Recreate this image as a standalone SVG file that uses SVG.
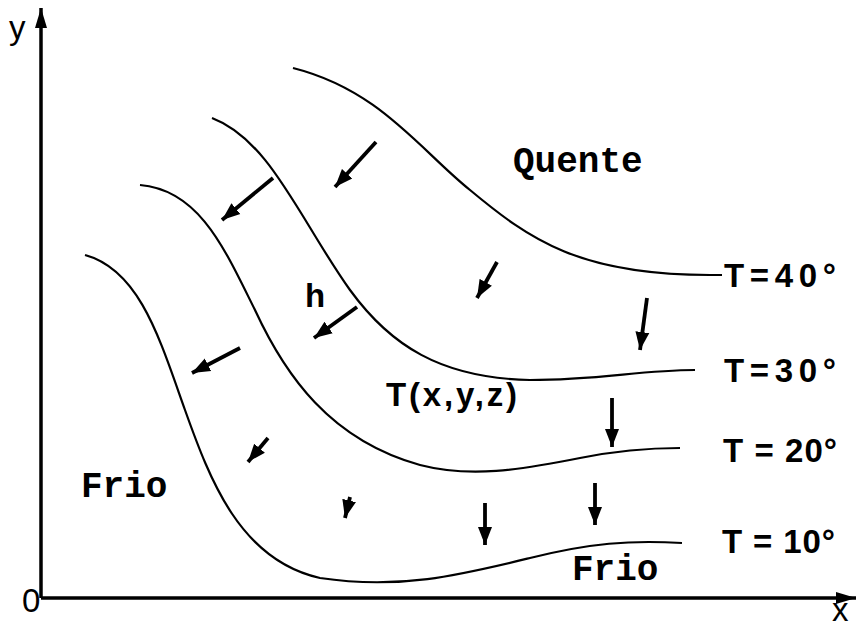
<svg xmlns="http://www.w3.org/2000/svg" width="860" height="628" viewBox="0 0 860 628">
<style>
.curve{fill:none;stroke:#000;stroke-width:2.2}
.axis{fill:none;stroke:#000;stroke-width:3.5}
.arr{fill:none;stroke:#000;stroke-width:3.8;marker-end:url(#ah)}
.mono{font-family:"Liberation Mono",monospace;font-weight:bold;font-size:36px;fill:#000}
.sans{font-family:"Liberation Sans",Arial,sans-serif;font-size:33px;fill:#000}
.lab{font-family:"Liberation Sans",Arial,sans-serif;font-size:33px;font-weight:bold;fill:#000}
</style>
<defs>
<marker id="ah" markerUnits="userSpaceOnUse" markerWidth="20" markerHeight="16" refX="18" refY="8" orient="auto">
<path d="M0,1 L18,8 L0,15 Z" fill="#000"/>
</marker>
<marker id="axh" markerUnits="userSpaceOnUse" markerWidth="22" markerHeight="16" refX="20" refY="8" orient="auto">
<path d="M0,2 L20,8 L0,14 Z" fill="#000"/>
</marker>
</defs>
<g id="axes">
<line class="axis" x1="41" y1="598" x2="41" y2="8" marker-end="url(#axh)"/>
<line class="axis" x1="41" y1="598" x2="856" y2="598" marker-end="url(#axh)"/>
<text class="sans" x="9" y="39" font-size="28">y</text>
<text class="sans" x="22" y="612" font-size="28">0</text>
<text class="sans" x="832" y="621" font-size="26">x</text>
</g>
<g id="isotherms">
<g id="t40"><path class="curve" d="M293,68 C380,90 420,150 470,190 C530,240 580,275 710,275 L722,275"/><text class="lab" x="724" y="287" textLength="112">T=40°</text></g>
<g id="t30"><path class="curve" d="M212,118 C270,140 300,220 350,290 C390,345 440,378 530,380 C600,380 640,370 695,370"/><text class="lab" x="724" y="382" textLength="112">T=30°</text></g>
<g id="t20"><path class="curve" d="M140,185 C200,190 225,250 255,310 C285,375 330,440 420,465 C470,478 520,470 580,458 C620,450 650,448 680,448"/><text class="lab" x="723" y="462" textLength="114">T = 20°</text></g>
<g id="t10"><path class="curve" d="M85,255 C140,270 160,340 185,410 C210,480 240,560 320,578 C400,590 460,575 530,558 C590,543 630,540 682,543"/><text class="lab" x="722" y="553" textLength="113">T = 10°</text></g>
</g>
<g id="labels">
<text class="mono" x="513" y="172">Quente</text>
<text class="mono" x="81" y="497">Frio</text>
<text class="mono" x="572" y="580">Frio</text>
<text class="lab" x="386" y="406" font-size="34" textLength="131">T(x,y,z)</text>
<text class="lab" x="305" y="307" font-size="32">h</text>
</g>
<g id="connectors">
<line class="arr" x1="376" y1="142" x2="335" y2="187"/>
<line class="arr" x1="273" y1="178" x2="222" y2="220"/>
<line class="arr" x1="357" y1="307" x2="314" y2="338"/>
<line class="arr" x1="240" y1="348" x2="192" y2="373"/>
<line class="arr" x1="268" y1="438" x2="248" y2="462"/>
<line class="arr" x1="497" y1="262" x2="477" y2="298"/>
<line class="arr" x1="647" y1="298" x2="640" y2="350"/>
<line class="arr" x1="612" y1="398" x2="612" y2="447"/>
<line class="arr" x1="595" y1="483" x2="595" y2="525"/>
<line class="arr" x1="485" y1="503" x2="485" y2="545"/>
<line class="arr" x1="350" y1="497" x2="345" y2="518"/>
</g>
</svg>
